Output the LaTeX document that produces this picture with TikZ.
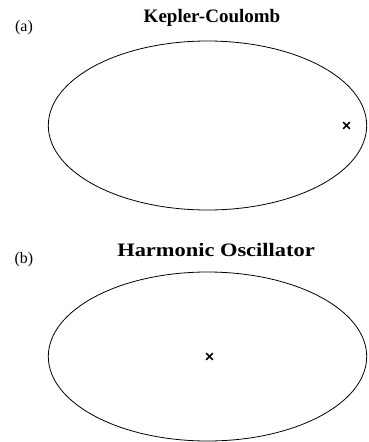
\documentclass[tikz,border=0pt]{standalone}
\usepackage{fontspec}
\setmainfont{Liberation Serif}
\begin{document}
\begin{tikzpicture}[x=1pt,y=-1pt,
  orbit/.style={draw=black,line width=0.8pt},
  crossmark/.style={line width=1.7pt},
  title/.style={font=\fontsize{19}{22}\selectfont\bfseries,anchor=base},
  panel/.style={font=\fontsize{16}{19}\selectfont,anchor=base}]
\useasboundingbox (0,0) rectangle (369,442);
\node[title] (ta) at (212,22) {Kepler-Coulomb};
\node[title] (tb) at (216,256.5) {\scalebox{1.18}[1]{Harmonic Oscillator}};
\node[panel] (la) at (24,31.5) {(a)};
\node[panel] (lb) at (24,263) {(b)};
\draw[orbit] (207.5,125.5) ellipse [x radius=159.2, y radius=84.5];
\draw[orbit] (207.5,356.5) ellipse [x radius=159.2, y radius=84.5];
\coordinate (fa) at (346.5,125.5);
\coordinate (fb) at (209.5,356.5);
\draw[crossmark] ([shift={(-3.3,-3.3)}]fa) -- ([shift={(3.3,3.3)}]fa);
\draw[crossmark] ([shift={(-3.3,3.3)}]fa) -- ([shift={(3.3,-3.3)}]fa);
\draw[crossmark] ([shift={(-3.3,-3.3)}]fb) -- ([shift={(3.3,3.3)}]fb);
\draw[crossmark] ([shift={(-3.3,3.3)}]fb) -- ([shift={(3.3,-3.3)}]fb);
\end{tikzpicture}
\end{document}
